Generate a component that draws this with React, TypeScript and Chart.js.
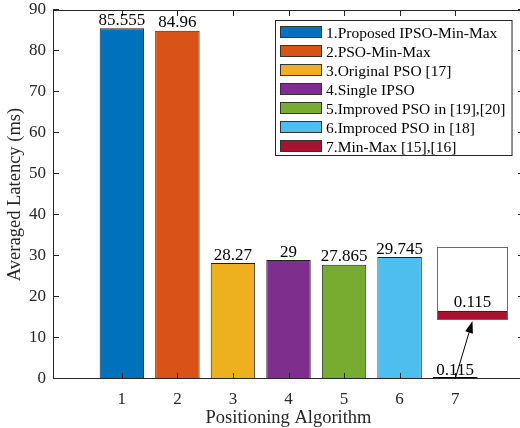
import React, { useEffect, useRef } from "react";
import { Chart, registerables } from "chart.js";

Chart.register(...registerables);

const categories = [1, 2, 3, 4, 5, 6, 7];
const latencies = [85.555, 84.96, 28.27, 29, 27.865, 29.745, 0.115];
const valueLabels = ["85.555", "84.96", "28.27", "29", "27.865", "29.745", "0.115"];
const seriesNames = [
  "1.Proposed IPSO-Min-Max",
  "2.PSO-Min-Max",
  "3.Original PSO [17]",
  "4.Single IPSO",
  "5.Improved PSO in [19],[20]",
  "6.Improced PSO in [18]",
  "7.Min-Max [15],[16]",
];
const barColors = ["#0072BD", "#D95319", "#EDB120", "#7E2F8E", "#77AC30", "#4DBEEE", "#A2142F"];
const yTicks = [0, 10, 20, 30, 40, 50, 60, 70, 80, 90];
const xTicks = [1, 2, 3, 4, 5, 6, 7];
const insetIndex = 6;
const insetYMax = 0.93;

const FONT = "'Liberation Serif', 'Times New Roman', serif";
const AXIS = "#262626";
const EDGE = "#1f1f1f";
const INSET = { left: 437, top: 247, width: 71, height: 73 };

const mainPlugin = {
  id: "mainDecor",
  beforeDraw(chart: any) {
    const { ctx, width, height } = chart;
    ctx.save();
    ctx.fillStyle = "#fff";
    ctx.fillRect(0, 0, width, height);
    ctx.restore();
  },
  afterDatasetsDraw(chart: any) {
    const { ctx, chartArea: a, scales } = chart;
    const xs = scales.x;
    const ys = scales.y;
    const meta = chart.getDatasetMeta(0);
    ctx.save();
    // tiny bars: edge line
    meta.data.forEach((bar: any) => {
      const p = bar.getProps(["x", "y", "base", "width"], true);
      if (Math.abs(p.base - p.y) < 2) {
        ctx.strokeStyle = "#000";
        ctx.lineWidth = 2;
        ctx.beginPath();
        ctx.moveTo(p.x - p.width / 2, p.base - 1);
        ctx.lineTo(p.x + p.width / 2, p.base - 1);
        ctx.stroke();
      }
    });
    // frame
    ctx.strokeStyle = AXIS;
    ctx.lineWidth = 1;
    ctx.strokeRect(a.left + 0.5, a.top + 0.5, a.right - a.left - 1, a.bottom - a.top - 1);
    // ticks
    const tl = 6;
    ctx.beginPath();
    yTicks.forEach((v) => {
      const py = Math.round(ys.getPixelForValue(v)) - 0.5;
      ctx.moveTo(a.left, py);
      ctx.lineTo(a.left + tl, py);
      ctx.moveTo(a.right, py);
      ctx.lineTo(a.right - tl, py);
    });
    xTicks.forEach((v) => {
      const px = Math.round(xs.getPixelForValue(v)) + 0.5;
      ctx.moveTo(px, a.bottom);
      ctx.lineTo(px, a.bottom - tl);
      ctx.moveTo(px, a.top);
      ctx.lineTo(px, a.top + tl);
    });
    ctx.stroke();
    // value labels
    ctx.fillStyle = "#000";
    ctx.font = `17px ${FONT}`;
    ctx.textAlign = "center";
    ctx.textBaseline = "alphabetic";
    meta.data.forEach((bar: any, i: number) => {
      const p = bar.getProps(["x", "y"], true);
      ctx.fillText(valueLabels[i], p.x, p.y - 3.5);
    });
    ctx.restore();
  },
  afterDraw(chart: any) {
    const { ctx, chartArea: a, scales } = chart;
    const ys = scales.y;
    ctx.save();
    // legend
    ctx.font = `15.5px ${FONT}`;
    const maxW = Math.max(...seriesNames.map((s) => ctx.measureText(s).width));
    const sw = 42, sh = 12, rowH = 19;
    const boxW = 5 + sw + 4 + maxW + 6;
    const boxH = 12 + (seriesNames.length - 1) * rowH + 9;
    const right = a.right - 12;
    const left = Math.round(right - boxW);
    const top = a.top + 10;
    ctx.fillStyle = "#fff";
    ctx.fillRect(left, top, boxW, boxH);
    ctx.strokeStyle = AXIS;
    ctx.lineWidth = 1;
    ctx.strokeRect(left + 0.5, top + 0.5, boxW, boxH);
    seriesNames.forEach((name, i) => {
      const cy = top + 12 + i * rowH;
      ctx.fillStyle = barColors[i];
      ctx.fillRect(left + 5, cy - sh / 2, sw, sh);
      ctx.strokeStyle = "#333";
      ctx.strokeRect(left + 5.5, cy - sh / 2 + 0.5, sw - 1, sh - 1);
      ctx.fillStyle = "#000";
      ctx.textAlign = "left";
      ctx.textBaseline = "alphabetic";
      ctx.fillText(name, left + 5 + sw + 4, cy + 6);
    });
    // arrow from bar 7 to inset
    const meta = chart.getDatasetMeta(0);
    const bar = meta.data[insetIndex].getProps(["x"], true);
    const x0 = bar.x;
    const y0 = ys.getPixelForValue(0);
    const x1 = INSET.left + INSET.width / 2;
    const y1 = INSET.top + INSET.height + 1;
    const ang = Math.atan2(y1 - y0, x1 - x0);
    const hl = 12, hw = 4;
    const bx = x1 - hl * Math.cos(ang);
    const by = y1 - hl * Math.sin(ang);
    ctx.strokeStyle = "#000";
    ctx.lineWidth = 1;
    ctx.beginPath();
    ctx.moveTo(x0, y0);
    ctx.lineTo(bx, by);
    ctx.stroke();
    ctx.fillStyle = "#000";
    ctx.beginPath();
    ctx.moveTo(x1, y1);
    ctx.lineTo(bx + hw * Math.sin(ang), by - hw * Math.cos(ang));
    ctx.lineTo(bx - hw * Math.sin(ang), by + hw * Math.cos(ang));
    ctx.closePath();
    ctx.fill();
    ctx.restore();
  },
};

const insetPlugin = {
  id: "insetDecor",
  beforeDraw(chart: any) {
    const { ctx, width, height } = chart;
    ctx.save();
    ctx.fillStyle = "#fff";
    ctx.fillRect(0, 0, width, height);
    ctx.restore();
  },
  afterDatasetsDraw(chart: any) {
    const { ctx, chartArea: a } = chart;
    ctx.save();
    ctx.strokeStyle = "#6a6a6a";
    ctx.lineWidth = 1;
    ctx.strokeRect(a.left + 0.5, a.top + 0.5, a.right - a.left - 1, a.bottom - a.top - 1);
    const bar = chart.getDatasetMeta(0).data[0].getProps(["x", "y"], true);
    ctx.fillStyle = "#000";
    ctx.font = `17px ${FONT}`;
    ctx.textAlign = "center";
    ctx.textBaseline = "alphabetic";
    ctx.fillText(valueLabels[insetIndex], bar.x, bar.y - 3.5);
    ctx.restore();
  },
};

export default function App() {
  const mainRef = useRef<HTMLCanvasElement>(null);
  const insetRef = useRef<HTMLCanvasElement>(null);

  useEffect(() => {
    if (!mainRef.current || !insetRef.current) return;
    const main = new Chart(mainRef.current, {
      type: "bar",
      data: {
        datasets: [
          {
            data: categories.map((c, i) => ({ x: c, y: latencies[i] })),
            backgroundColor: barColors,
            borderColor: EDGE,
            borderWidth: 1,
            borderSkipped: false,
            barPercentage: 0.8,
            categoryPercentage: 1,
          },
        ],
      },
      options: {
        responsive: false,
        animation: false,
        devicePixelRatio: 1,
        layout: { padding: { top: 10, right: 16, left: 0, bottom: 0 } },
        plugins: { legend: { display: false }, tooltip: { enabled: false } },
        scales: {
          x: {
            type: "linear",
            offset: false,
            min: -0.24,
            max: 8.24,
            grid: { display: false, drawTicks: false, offset: false },
            border: { display: false },
            afterBuildTicks: (s: any) => {
              s.ticks = xTicks.map((v) => ({ value: v }));
            },
            afterFit: (s: any) => {
              s.height = 49;
              s.paddingLeft = 0;
              s.paddingRight = 0;
            },
            ticks: {
              font: { family: FONT, size: 17 },
              color: AXIS,
              padding: 10,
              maxRotation: 0,
              autoSkip: false,
              callback: (v: any) => String(v),
            },
            title: {
              display: true,
              text: "Positioning Algorithm",
              font: { family: FONT, size: 18.5 },
              color: AXIS,
              padding: { top: 0, bottom: -1 },
            },
          },
          y: {
            type: "linear",
            min: 0,
            max: 90,
            grid: { display: false, drawTicks: false },
            border: { display: false },
            afterBuildTicks: (s: any) => {
              s.ticks = yTicks.map((v) => ({ value: v }));
            },
            afterFit: (s: any) => {
              s.width = 53;
              s.paddingTop = 0;
              s.paddingBottom = 0;
            },
            ticks: {
              font: { family: FONT, size: 17 },
              color: AXIS,
              padding: 7,
              callback: (v: any) => String(v),
            },
            title: {
              display: true,
              text: "Averaged Latency (ms)",
              font: { family: FONT, size: 18.5 },
              color: AXIS,
              padding: { top: 4, bottom: 0 },
            },
          },
        },
      },
      plugins: [mainPlugin],
    } as any);

    const inset = new Chart(insetRef.current, {
      type: "bar",
      data: {
        labels: [String(categories[insetIndex])],
        datasets: [
          {
            data: [latencies[insetIndex]],
            backgroundColor: barColors[insetIndex],
            borderColor: EDGE,
            borderWidth: 1,
            borderSkipped: false,
            barPercentage: 1,
            categoryPercentage: 1,
          },
        ],
      },
      options: {
        responsive: false,
        animation: false,
        devicePixelRatio: 1,
        layout: { padding: 0 },
        plugins: { legend: { display: false }, tooltip: { enabled: false } },
        scales: {
          x: { display: false },
          y: { display: false, min: 0, max: insetYMax },
        },
      },
      plugins: [insetPlugin],
    } as any);

    return () => {
      main.destroy();
      inset.destroy();
    };
  }, []);

  return (
    <div
      style={{
        position: "fixed",
        left: 0,
        top: 0,
        width: 520,
        height: 428,
        overflow: "hidden",
        background: "#fff",
      }}
    >
      <canvas
        ref={mainRef}
        width={540}
        height={428}
        style={{ position: "absolute", left: 0, top: 0, width: 540, height: 428 }}
      />
      <canvas
        ref={insetRef}
        width={INSET.width}
        height={INSET.height}
        style={{
          position: "absolute",
          left: INSET.left,
          top: INSET.top,
          width: INSET.width,
          height: INSET.height,
        }}
      />
    </div>
  );
}
